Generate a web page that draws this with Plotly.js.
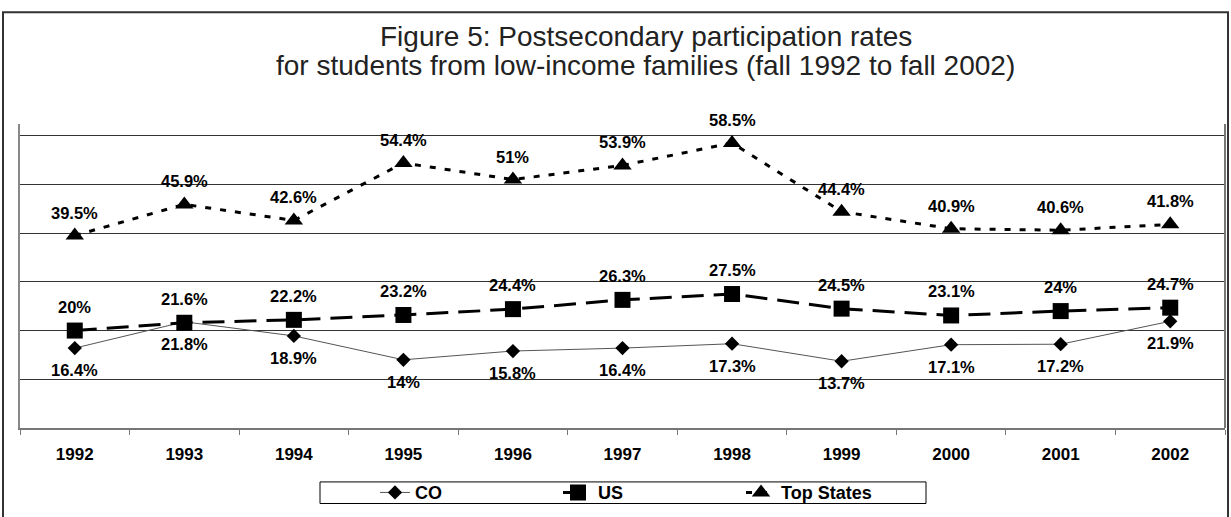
<!DOCTYPE html>
<html>
<head>
<meta charset="utf-8">
<script src="https://cdn.plot.ly/plotly-3.0.1.min.js"></script>
<style>
  html, body { margin: 0; padding: 0; background: #fff; }
  #chart { width: 1231px; height: 517px; }
</style>
</head>
<body>
<div id="chart"></div>
<script>
// ---- data ----
const years = ['1992', '1993', '1994', '1995', '1996', '1997', '1998', '1999', '2000', '2001', '2002'];
const coValues = [16.4, 21.8, 18.9, 14, 15.8, 16.4, 17.3, 13.7, 17.1, 17.2, 21.9];
const usValues = [20, 21.6, 22.2, 23.2, 24.4, 26.3, 27.5, 24.5, 23.1, 24, 24.7];
const topValues = [39.5, 45.9, 42.6, 54.4, 51, 53.9, 58.5, 44.4, 40.9, 40.6, 41.8];
const seriesNames = ['CO', 'US', 'Top States'];
const titleLines = ['Figure 5: Postsecondary participation rates',
                    'for students from low-income families (fall 1992 to fall 2002)'];

const FONT = 'Liberation Sans, Arial, Helvetica, sans-serif';
const labelFont = {family: FONT, size: 16.5, weight: 'bold', color: '#000'};
const titleFont = {family: FONT, size: 28, color: '#222'};

// plot area in page pixels: x 20..1225, y 124..434
const PL = 20, PR = 1225, PT = 124, PB = 434;
const px = v => (v - PL) / (PR - PL);
const py = v => (PB - v) / (PB - PT);

function labels(values, shift) {
  return values.map((v, i) => ({
    x: i, y: v, xref: 'x', yref: 'y',
    text: String(v) + '%', showarrow: false,
    yshift: shift, font: labelFont
  }));
}

const traces = [
  {
    x: years, y: coValues, name: seriesNames[0], type: 'scatter', mode: 'lines+markers',
    line: {color: '#555', width: 1},
    marker: {symbol: 'diamond', size: 11, color: '#000'}
  },
  {
    x: years, y: usValues, name: seriesNames[1], type: 'scatter', mode: 'lines+markers',
    line: {color: '#000', width: 3, dash: '22px,10px'},
    marker: {symbol: 'square', size: 16, color: '#000'}
  },
  {
    x: years, y: topValues, name: seriesNames[2], type: 'scatter', mode: 'lines+markers',
    line: {color: '#000', width: 3, dash: '6px,9px'},
    marker: {symbol: 'triangle-up', size: 16, color: '#000'}
  }
];

const layout = {
  width: 1231, height: 517,
  margin: {l: PL, r: 1231 - PR, t: PT, b: 517 - PB, pad: 0},
  paper_bgcolor: '#fff', plot_bgcolor: '#fff',
  showlegend: true,
  xaxis: {
    type: 'category', categoryorder: 'array', categoryarray: years,
    range: [-0.5, years.length - 0.5], autorange: false,
    showgrid: false, zeroline: false,
    showline: true, linecolor: '#777', linewidth: 2,
    ticks: 'outside', tickson: 'boundaries', ticklen: 5, tickcolor: '#777', tickwidth: 1,
    tickfont: {family: FONT, size: 17, weight: 'bold', color: '#000'},
    tickangle: 0,
    ticklabelstandoff: 10,
    fixedrange: true
  },
  yaxis: {
    range: [0, 62.4], autorange: false, dtick: 10, tick0: 0,
    showgrid: true, gridcolor: '#333', gridwidth: 1,
    zeroline: false, showticklabels: false, ticks: '',
    showline: true, linecolor: '#888', linewidth: 2,
    fixedrange: true
  },
  legend: {
    orientation: 'h',
    x: px(375), xanchor: 'left',
    y: py(500), yanchor: 'middle',
    font: {family: FONT, size: 18, weight: 'bold', color: '#000'},
    bgcolor: 'rgba(0,0,0,0)', borderwidth: 0,
    entrywidth: 138, entrywidthmode: 'pixels',
    traceorder: 'normal'
  },
  shapes: [
    {type: 'line', xref: 'paper', yref: 'paper', x0: 1, x1: 1, y0: 0, y1: 1,
     line: {color: '#777', width: 2}},
    {type: 'rect', xref: 'paper', yref: 'paper',
     x0: px(320), x1: px(926), y0: py(511), y1: py(489),
     line: {color: '#000', width: 1}},
    {type: 'rect', xref: 'paper', yref: 'paper',
     x0: px(3), x1: px(1228), y0: py(530), y1: py(10),
     line: {color: '#333', width: 2}}
  ],
  annotations: [
    {text: titleLines[0], xref: 'paper', yref: 'paper', x: px(645.5), y: py(35),
     xanchor: 'center', yanchor: 'middle', showarrow: false, font: titleFont},
    {text: titleLines[1], xref: 'paper', yref: 'paper', x: px(645), y: py(64),
     xanchor: 'center', yanchor: 'middle', showarrow: false, font: titleFont}
  ].concat(
    labels(coValues, -22),
    labels(usValues, 24),
    labels(topValues, 23)
  )
};

Plotly.newPlot('chart', traces, layout, {displayModeBar: false, staticPlot: true});
</script>
</body>
</html>
